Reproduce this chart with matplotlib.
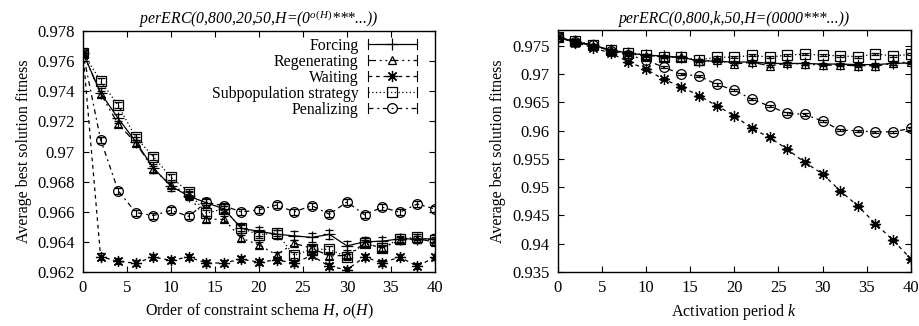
import numpy as np
import matplotlib
matplotlib.use('Agg')
import matplotlib.pyplot as plt
from matplotlib.ticker import FuncFormatter, MultipleLocator
from matplotlib.legend_handler import HandlerBase
from matplotlib.lines import Line2D
from matplotlib.container import ErrorbarContainer

plt.rcParams['font.family'] = ['Liberation Serif', 'DejaVu Serif']
plt.rcParams['mathtext.fontset'] = 'custom'
plt.rcParams['mathtext.rm'] = 'Liberation Serif'
plt.rcParams['mathtext.it'] = 'Liberation Serif:italic'
plt.rcParams['font.size'] = 11

x = np.arange(0, 41, 2)

# left: varying schema order o(H)
forcing_a = [0.97655, 0.9739, 0.9722, 0.97065, 0.9689, 0.9677, 0.96705, 0.9666, 0.9662, 0.9649, 0.9647,
             0.96451, 0.9644, 0.9643, 0.9645, 0.96374, 0.9640, 0.96405, 0.9642, 0.9642, 0.9642]
forcing_a_err = [0.0, 0.0003, 0.0003, 0.0003, 0.0003, 0.0003, 0.0003, 0.0003, 0.0003, 0.0003, 0.0003,
                 0.0003, 0.0003, 0.0003, 0.0003, 0.0003, 0.0003, 0.0003, 0.0003, 0.0003, 0.0003]
regen_a = [0.97655, 0.97385, 0.97182, 0.97058, 0.96882, 0.96778, 0.96712, 0.9655, 0.9655, 0.96425, 0.9638,
           0.96314, 0.9639, 0.96358, 0.96307, 0.9631, 0.9639, 0.9636, 0.9641, 0.9642, 0.9640]
wait_a = [0.97655, 0.96303, 0.9627, 0.96259, 0.9630, 0.96277, 0.9630, 0.9626, 0.9626, 0.96285, 0.96266,
          0.9628, 0.9626, 0.9631, 0.96237, 0.96215, 0.9630, 0.9626, 0.9630, 0.96237, 0.9630]
subpop_a = [0.97655, 0.97469, 0.97306, 0.97094, 0.96966, 0.96829, 0.96734, 0.9659, 0.9662, 0.9649, 0.96447,
            0.9646, 0.9631, 0.96352, 0.9635, 0.9630, 0.9639, 0.9636, 0.9642, 0.9643, 0.9641]
penal_a = [0.97655, 0.9708, 0.9674, 0.96595, 0.96575, 0.9661, 0.9657, 0.96663, 0.9664, 0.96599, 0.96612,
           0.96645, 0.9660, 0.9664, 0.96584, 0.96665, 0.9658, 0.9663, 0.96597, 0.96652, 0.96619]
other_a_err = [0.0, 0.0002, 0.0002, 0.0002, 0.0002, 0.0002, 0.0002, 0.0002, 0.0002, 0.0002, 0.0002,
               0.0002, 0.0002, 0.0002, 0.0002, 0.0002, 0.0002, 0.0002, 0.0002, 0.0002, 0.0002]

# right: varying activation period k
forcing_b = [0.9765, 0.9758, 0.9751, 0.9743, 0.9737, 0.9734, 0.9732, 0.9730, 0.97234, 0.97234, 0.9721,
             0.9722, 0.9719, 0.9719, 0.9719, 0.9718, 0.9718, 0.9717, 0.9717, 0.9719, 0.9720]
regen_b = [0.9765, 0.9757, 0.9750, 0.9742, 0.9736, 0.9733, 0.9731, 0.9730, 0.9723, 0.9725, 0.9718,
           0.9721, 0.9715, 0.9719, 0.9718, 0.9716, 0.9716, 0.9715, 0.9715, 0.9719, 0.9722]
wait_b = [0.9765, 0.9756, 0.9747, 0.9737, 0.97222, 0.97086, 0.96909, 0.96779, 0.9662, 0.96442, 0.96265,
          0.9604, 0.95881, 0.95674, 0.95438, 0.95237, 0.94936, 0.9467, 0.94357, 0.94061, 0.93736]
subpop_b = [0.9765, 0.97595, 0.97518, 0.97429, 0.97382, 0.9734, 0.9730, 0.9730, 0.97252, 0.9730, 0.9730,
            0.97335, 0.9730, 0.9734, 0.97352, 0.9734, 0.97323, 0.9731, 0.97358, 0.97323, 0.97352]
penal_b = [0.9765, 0.97577, 0.97518, 0.97411, 0.9734, 0.97252, 0.97122, 0.97004, 0.96968, 0.9682, 0.9672,
           0.96555, 0.96436, 0.96306, 0.96289, 0.9617, 0.96011, 0.95999, 0.95976, 0.95982, 0.96041]
err_b = [0.0, 0.0002, 0.0002, 0.0002, 0.0002, 0.0002, 0.0002, 0.0002, 0.0002, 0.0002, 0.0002,
         0.0002, 0.0002, 0.0002, 0.0002, 0.0002, 0.0002, 0.0002, 0.0002, 0.0002, 0.0002]

labels = ['Forcing', 'Regenerating', 'Waiting', 'Subpopulation strategy', 'Penalizing']
styles = [
    dict(marker='+', ls='-', ms=8),
    dict(marker='^', ls=(0, (6, 3, 1.5, 3, 1.5, 3)), ms=6),
    dict(marker=(8, 2, 0), ls=(0, (3, 3)), ms=8),
    dict(marker='s', ls=(0, (1, 2)), ms=7),
    dict(marker='o', ls=(0, (4, 3, 1.5, 3)), ms=7),
]


class CapKey(HandlerBase):
    # gnuplot-like key: line with the marker centred and small bars at both ends
    def create_artists(self, legend, orig_handle, xdescent, ydescent, width, height, fontsize, trans):
        src = orig_handle[0]
        y = height / 2 - ydescent
        x0, x1 = -xdescent, width - xdescent
        ln = Line2D([x0, x1], [y, y])
        ln.update_from(src)
        ln.set_marker('')
        mk = Line2D([(x0 + x1) / 2], [y])
        mk.update_from(src)
        mk.set_linestyle('none')
        h = 0.45 * height
        caps = Line2D([x0, x0, np.nan, x1, x1], [y - h, y + h, np.nan, y - h, y + h], color='k', lw=0.8)
        for a in (ln, mk, caps):
            a.set_transform(trans)
        return [ln, mk, caps]


def draw(ax, series, errs):
    handles = []
    for yv, ev, st, lab in zip(series, errs, styles, labels):
        h = ax.errorbar(x, yv, yerr=ev, color='k', lw=0.9, ls=st['ls'], marker=st['marker'],
                        ms=st['ms'], mfc='none', mec='k', mew=0.9, capsize=3, elinewidth=0.8,
                        capthick=0.8, label=lab)
        handles.append(h)
    ax.set_xlim(0, 40)
    ax.xaxis.set_major_locator(MultipleLocator(5))
    ax.tick_params(direction='in', top=True, right=True, length=4, width=0.8, labelsize=12, pad=6)
    ax.yaxis.set_major_formatter(FuncFormatter(lambda v, p: '%g' % round(v, 4)))
    for s in ax.spines.values():
        s.set_linewidth(1.0)
    ax.set_ylabel('Average best solution fitness', fontsize=11.5)
    return handles


fig = plt.figure(figsize=(9.19, 3.26), dpi=100)
ax1 = fig.add_axes([0.0903, 0.1656, 0.383, 0.739])
ax2 = fig.add_axes([0.607, 0.1656, 0.384, 0.742])

h1 = draw(ax1, [forcing_a, regen_a, wait_a, subpop_a, penal_a],
          [forcing_a_err, other_a_err, other_a_err, other_a_err, other_a_err])
ax1.set_ylim(0.962, 0.978)
ax1.yaxis.set_major_locator(MultipleLocator(0.002))
ax1.set_xlabel('Order of constraint schema $H$, $o(H)$', fontsize=11.5)
ax1.set_title(r'perERC(0,800,20,50,H=(0$^{o(H)}$***...))', fontsize=11.3, style='italic', pad=5)
ax1.legend(handles=h1, loc='upper right', bbox_to_anchor=(0.949, 0.972), frameon=False,
           markerfirst=False, fontsize=11.4, handlelength=3.1, handletextpad=0.6,
           labelspacing=0.0, borderaxespad=0.0, borderpad=0.0,
           handler_map={ErrorbarContainer: CapKey()})

draw(ax2, [forcing_b, regen_b, wait_b, subpop_b, penal_b], [err_b] * 5)
ax2.set_ylim(0.935, 0.9778)
ax2.yaxis.set_major_locator(MultipleLocator(0.005))
ax2.set_xlabel('Activation period $k$', fontsize=11.5)
ax2.set_title('perERC(0,800,k,50,H=(0000***...))', fontsize=11.3, style='italic', pad=5)

fig.savefig('out.png', dpi=100)
